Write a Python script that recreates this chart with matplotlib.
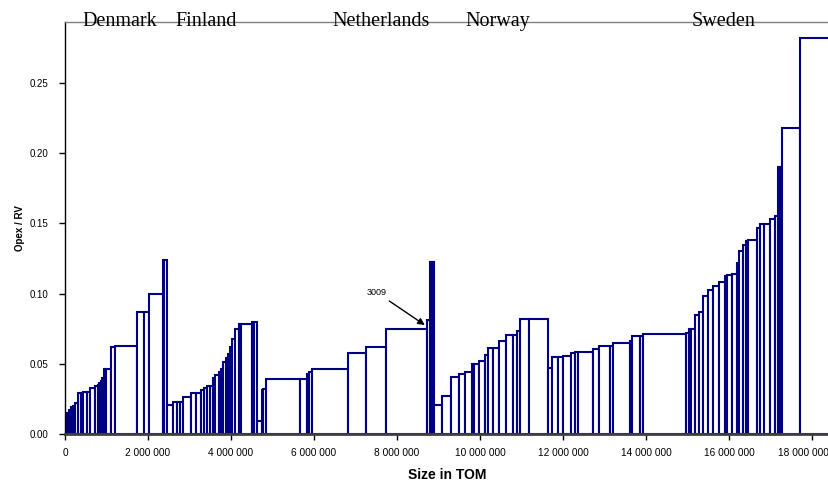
import matplotlib
matplotlib.use("Agg")
import matplotlib.pyplot as plt
from matplotlib.ticker import FuncFormatter, MultipleLocator
import numpy as np

# ---- data: size in TOM (bar widths) and Opex/RV (bar heights), per country ----
denmark_size = [48000, 48000, 48000, 48000, 48000, 72000, 80000, 48000, 89000, 65000,
                135000, 58000, 43000, 43000, 29000, 29000, 48000, 135000, 96000, 530000,
                169000, 120000, 330000, 36000, 53000]
denmark_ratio = [0.013, 0.015, 0.017, 0.019, 0.020, 0.022, 0.029, 0.029, 0.030, 0.030,
                 0.033, 0.034, 0.035, 0.036, 0.038, 0.040, 0.046, 0.046, 0.062, 0.063,
                 0.087, 0.087, 0.100, 0.124, 0.124]

finland_size = [145000, 111000, 65000, 80000, 186000, 120000, 128000, 65000, 65000, 80000,
                65000, 55000, 89000, 55000, 55000, 58000, 48000, 55000, 55000, 65000,
                96000, 41000, 265000, 63000, 72000]
finland_ratio = [0.021, 0.023, 0.023, 0.023, 0.026, 0.029, 0.029, 0.031, 0.033, 0.034,
                 0.034, 0.040, 0.042, 0.044, 0.046, 0.051, 0.054, 0.057, 0.062, 0.068,
                 0.0746, 0.078, 0.078, 0.080, 0.080]

netherlands_size = [106000, 39000, 58000, 827000, 176000, 53000, 53000, 867000, 434000,
                    482000, 1002000, 65000, 48000, 60000]
netherlands_ratio = [0.009, 0.031, 0.032, 0.039, 0.039, 0.043, 0.044, 0.046, 0.0575,
                     0.062, 0.0746, 0.081, 0.1225, 0.1225]

norway_size = [173000, 217000, 207000, 145000, 154000, 55000, 128000, 137000, 65000,
               135000, 145000, 154000, 169000, 111000, 65000, 224000, 451000,
               89000, 145000, 135000, 186000, 96000, 80000, 361000, 145000, 258000,
               80000, 402000, 41000, 200000, 80000, 1022000, 87000, 53000, 84000]
norway_ratio = [0.0204, 0.0273, 0.0404, 0.043, 0.0444, 0.050, 0.050, 0.0518, 0.056,
                0.0615, 0.0615, 0.066, 0.0703, 0.0703, 0.0734, 0.0817, 0.0817,
                0.047, 0.0546, 0.0546, 0.0556, 0.0575, 0.0587, 0.0587, 0.0603, 0.0629,
                0.0629, 0.0646, 0.066, 0.070, 0.070, 0.0712, 0.0717, 0.0746, 0.0746]

sweden_size = [104000, 96000, 106000, 135000, 145000, 137000, 55000, 106000, 120000,
               55000, 104000, 58000, 63000, 217000, 65000, 96000, 145000, 120000,
               80000, 41000, 41000, 441000, 1085000]
sweden_ratio = [0.0848, 0.0871, 0.0985, 0.1026, 0.1056, 0.1085, 0.1128, 0.1132, 0.1142,
                0.1216, 0.130, 0.1344, 0.1375, 0.1382, 0.147, 0.1496, 0.1496, 0.1529,
                0.1555, 0.190, 0.190, 0.218, 0.282]

countries = ["Denmark", "Finland", "Netherlands", "Norway", "Sweden"]
annot_label = "3009"

sizes = np.array(denmark_size + finland_size + netherlands_size + norway_size + sweden_size, float)
ratios = np.array(denmark_ratio + finland_ratio + netherlands_ratio + norway_ratio + sweden_ratio)
lefts = np.concatenate([[0], np.cumsum(sizes)[:-1]])

# ---- figure ----
fig = plt.figure(figsize=(8.29, 4.87), dpi=100)
ax = fig.add_axes([65/829, 53/487, 1 - 65/829, 412/487])

navy = "#000080"
ax.bar(lefts, ratios, width=sizes, align="edge", facecolor="white",
       edgecolor=navy, linewidth=1.5)

ax.set_xlim(0, 18.41e6)
ax.set_ylim(0, 0.2934)

ax.xaxis.set_major_locator(MultipleLocator(2e6))
ax.yaxis.set_major_locator(MultipleLocator(0.05))

def xfmt(v, p):
    if v > 17e6:
        return ""  # last label drawn separately so it stays inside the figure
    return f"{int(round(v)):,}".replace(",", " ")

ax.xaxis.set_major_formatter(FuncFormatter(xfmt))
ax.yaxis.set_major_formatter(FuncFormatter(lambda v, p: f"{v:.2f}"))

sans = ["Liberation Sans", "DejaVu Sans"]
for lab in ax.get_xticklabels() + ax.get_yticklabels():
    lab.set_family(sans)
ax.tick_params(axis="x", labelsize=7.3, direction="out", length=4, width=1, pad=6)
ax.tick_params(axis="y", labelsize=7, direction="out", length=4, width=1, pad=8)

# last x tick label, shifted to fit in the picture
ax.text(1.0, -0.047, "18 000 000", transform=ax.transAxes, ha="right", va="center",
        fontsize=7.3, family=sans)

ax.spines["right"].set_visible(False)
ax.spines["top"].set_color("#808080")
ax.spines["top"].set_linewidth(1.0)
ax.spines["left"].set_color("black")
ax.spines["left"].set_linewidth(1.0)
ax.spines["bottom"].set_color("#404040")
ax.spines["bottom"].set_linewidth(2.0)

ax.set_xlabel("Size in TOM", fontsize=10, fontweight="bold", family=sans, labelpad=7)
ax.set_ylabel("Opex / RV", fontsize=7, fontweight="bold", family=sans, labelpad=3)

# country labels along top line
label_x = [0.43e6, 2.65e6, 6.45e6, 9.65e6, 15.1e6]
for name, xv in zip(countries, label_x):
    ax.text(xv, 0.2905, name, ha="left", va="baseline", fontsize=14.5,
            family=["Liberation Serif", "DejaVu Serif"], clip_on=False)

ax.annotate(annot_label, xy=(8.67e6, 0.0776), xytext=(7.5e6, 0.101),
            fontsize=6.5, family=sans, ha="center", va="center",
            arrowprops=dict(arrowstyle="-|>", color="black", lw=1.0,
                            mutation_scale=10, shrinkA=2, shrinkB=0))

fig.savefig("out.png", dpi=100)
